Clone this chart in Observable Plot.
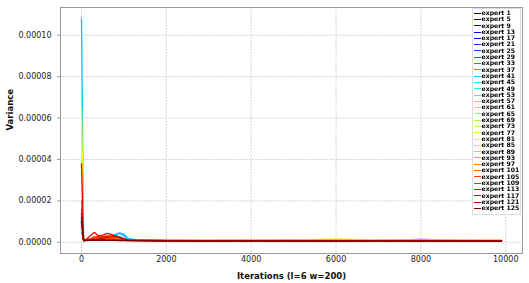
<!DOCTYPE html>
<html><head><meta charset="utf-8">
<script src="https://cdn.jsdelivr.net/npm/d3@7"></script>
<script src="https://cdn.jsdelivr.net/npm/@observablehq/plot@0.6"></script>
<style>
body{margin:0;background:#fff;font-family:"DejaVu Sans",sans-serif;}
#wrap{position:relative;width:529px;height:283px;}
#legend{position:absolute;left:472px;top:8px;width:49px;background:#fff;border:1px solid #ddd;padding:1px 0 2px 1px;box-sizing:border-box;will-change:transform;-webkit-font-smoothing:antialiased;}
.li{display:flex;align-items:center;height:6.3px;font-size:6.2px;font-weight:bold;line-height:6.3px;white-space:nowrap;color:#000;}
.li span.sw{display:inline-block;width:7px;height:0;border-top:1.2px solid;margin-right:0.5px;}
</style></head>
<body><div id="wrap"><div id="legend"></div></div>
<script>
// iterations (shared x positions)
const iterations = [0, 50, 100, 200, 300, 400, 500, 600, 700, 800, 900, 1000, 1100, 1300, 1600, 2000, 3000, 4000, 5000, 6000, 7000, 8000, 9000, 9900];
// expert ids
const experts = [1,5,9,13,17,21,25,29,33,37,41,45,49,53,57,61,65,69,73,77,81,85,89,93,97,101,105,109,113,117,121,125];
// variance values in units of 1e-6, one row per expert
const variance = [
 [ 9, 1.2, 1.0, 1.1, 1.3, 1.2, 1.4, 1.3, 1.2, 1.1, 1.0, 1.0, 0.9, 0.9, 0.9, 0.8, 0.8, 0.9, 0.8, 0.8, 0.9, 1.2, 0.8, 0.8],
 [ 7, 1.1, 1.2, 1.4, 1.6, 1.5, 1.3, 1.2, 1.3, 1.2, 1.1, 1.0, 1.0, 0.9, 0.9, 0.9, 0.8, 0.8, 0.9, 0.9, 0.8, 0.9, 0.8, 0.8],
 [10, 1.0, 1.1, 1.3, 1.5, 1.7, 1.9, 1.8, 1.6, 1.4, 1.2, 1.1, 1.0, 1.0, 0.9, 0.9, 0.9, 0.8, 0.8, 0.9, 0.8, 1.3, 0.9, 0.8],
 [ 6, 1.2, 1.1, 1.2, 1.4, 1.6, 1.8, 2.0, 1.9, 1.6, 1.3, 1.1, 1.0, 0.9, 0.9, 0.9, 0.8, 0.8, 0.8, 0.8, 0.9, 0.8, 0.8, 0.8],
 [ 8, 1.1, 1.0, 1.2, 1.3, 1.5, 1.7, 2.1, 2.4, 2.8, 2.2, 1.5, 1.2, 1.0, 0.9, 0.9, 0.8, 0.9, 0.8, 0.9, 0.9, 1.1, 0.8, 0.8],
 [ 7, 1.0, 1.1, 1.3, 1.6, 1.9, 2.2, 2.6, 2.9, 3.2, 2.4, 1.6, 1.2, 1.0, 1.0, 0.9, 0.8, 0.8, 0.9, 0.8, 0.8, 1.4, 0.9, 0.8],
 [ 9, 1.2, 1.2, 1.4, 1.7, 2.0, 2.3, 2.1, 1.9, 1.7, 1.5, 1.3, 1.1, 1.0, 1.0, 0.9, 0.9, 0.8, 0.8, 1.0, 0.9, 0.9, 0.8, 0.8],
 [11, 1.1, 1.0, 1.2, 1.4, 1.6, 1.8, 1.7, 1.6, 1.5, 1.3, 1.2, 1.1, 1.0, 0.9, 0.9, 0.9, 0.9, 1.1, 0.9, 0.8, 0.9, 0.9, 0.8],
 [12, 1.0, 1.1, 1.3, 1.7, 2.2, 2.6, 2.9, 3.1, 3.0, 2.6, 1.8, 1.3, 1.1, 1.0, 0.9, 0.9, 0.8, 0.9, 0.9, 0.8, 0.9, 0.8, 0.8],
 [20, 1.2, 1.1, 1.3, 1.6, 2.1, 2.6, 3.0, 3.3, 3.6, 4.3, 3.2, 1.6, 1.1, 1.0, 1.0, 0.9, 0.9, 0.9, 1.0, 0.9, 0.9, 0.9, 0.8],
 [108, 1.1, 1.2, 1.5, 2.0, 2.5, 2.9, 3.2, 3.4, 3.8, 4.6, 4.0, 1.8, 1.2, 1.1, 1.0, 1.2, 0.9, 0.9, 1.1, 0.9, 0.9, 1.0, 0.8],
 [15, 1.0, 1.1, 1.3, 1.7, 2.0, 2.4, 2.7, 2.9, 3.1, 2.6, 1.9, 1.3, 1.1, 1.0, 0.9, 0.9, 0.9, 0.8, 0.9, 0.8, 0.8, 0.9, 0.8],
 [ 9, 1.1, 1.0, 1.2, 1.5, 1.8, 2.0, 2.2, 2.1, 1.9, 1.6, 1.3, 1.1, 1.0, 0.9, 0.9, 0.9, 0.8, 0.8, 0.9, 0.8, 0.9, 0.8, 0.8],
 [ 8, 1.0, 1.1, 1.3, 1.6, 1.9, 2.1, 2.3, 2.2, 2.0, 1.7, 1.4, 1.2, 1.0, 0.9, 0.9, 0.8, 0.9, 0.9, 1.2, 0.9, 0.8, 0.8, 0.8],
 [10, 1.1, 1.2, 1.5, 1.9, 2.3, 2.5, 2.4, 2.2, 1.9, 1.6, 1.3, 1.1, 1.0, 1.0, 0.9, 0.9, 0.8, 0.9, 0.9, 0.8, 0.9, 0.8, 0.8],
 [ 7, 1.0, 1.0, 1.2, 1.4, 1.6, 1.8, 1.9, 1.8, 1.6, 1.4, 1.2, 1.1, 1.0, 0.9, 0.9, 0.8, 0.8, 0.8, 0.9, 0.8, 0.8, 0.8, 0.8],
 [ 9, 1.1, 1.1, 1.3, 1.6, 2.0, 2.4, 2.7, 2.5, 2.1, 1.7, 1.3, 1.1, 1.0, 0.9, 0.9, 0.9, 0.8, 0.9, 1.3, 0.9, 0.8, 0.9, 0.8],
 [11, 1.0, 1.1, 1.4, 1.8, 2.2, 2.5, 2.6, 2.3, 2.0, 1.6, 1.3, 1.1, 1.0, 1.0, 0.9, 0.8, 0.9, 0.8, 0.9, 0.8, 0.9, 0.8, 0.8],
 [ 8, 1.1, 1.2, 1.4, 1.7, 2.0, 2.2, 2.1, 1.9, 1.7, 1.4, 1.2, 1.1, 1.0, 0.9, 0.9, 0.9, 0.8, 0.8, 0.9, 0.9, 0.8, 0.8, 0.8],
 [10, 1.0, 1.1, 1.3, 1.6, 1.9, 2.1, 2.2, 2.0, 1.8, 1.5, 1.3, 1.1, 1.0, 0.9, 0.9, 0.8, 0.9, 0.9, 0.9, 0.8, 0.8, 0.9, 0.8],
 [65, 1.2, 1.1, 1.3, 1.5, 1.7, 1.9, 1.8, 1.6, 1.5, 1.3, 1.2, 1.1, 1.0, 1.0, 0.9, 1.0, 0.9, 1.1, 1.6, 1.1, 1.0, 1.3, 1.2],
 [14, 1.1, 1.0, 1.2, 1.4, 1.6, 1.7, 1.6, 1.5, 1.4, 1.2, 1.1, 1.0, 1.0, 0.9, 1.0, 1.1, 1.0, 1.0, 1.3, 1.0, 1.1, 1.0, 1.2],
 [12, 1.0, 1.1, 1.3, 1.5, 1.8, 2.0, 1.9, 1.7, 1.5, 1.3, 1.1, 1.0, 1.0, 0.9, 0.9, 0.9, 0.9, 0.9, 1.1, 0.9, 0.9, 1.1, 0.9],
 [ 9, 1.1, 1.1, 1.2, 1.4, 1.5, 1.6, 1.5, 1.4, 1.3, 1.2, 1.1, 1.0, 0.9, 0.9, 0.9, 0.8, 0.9, 0.8, 0.9, 0.8, 0.9, 0.8, 0.8],
 [10, 1.0, 1.0, 1.1, 1.3, 1.5, 1.6, 1.5, 1.4, 1.3, 1.2, 1.1, 1.0, 0.9, 0.9, 0.8, 0.8, 0.8, 0.8, 0.9, 0.8, 0.8, 0.8, 0.8],
 [11, 1.1, 1.1, 1.3, 1.6, 1.8, 1.9, 1.8, 1.6, 1.4, 1.2, 1.1, 1.0, 0.9, 0.9, 0.9, 0.8, 0.8, 0.9, 0.8, 0.8, 0.9, 0.8, 0.8],
 [13, 1.0, 1.1, 1.4, 2.0, 2.4, 2.2, 2.0, 1.8, 1.6, 1.4, 1.2, 1.0, 0.9, 0.9, 0.8, 0.8, 0.8, 0.8, 0.8, 0.8, 0.8, 0.8, 0.8],
 [16, 1.1, 1.2, 1.6, 2.6, 2.9, 2.7, 2.9, 3.0, 2.6, 2.0, 1.4, 1.1, 1.0, 0.9, 0.8, 0.8, 0.8, 0.8, 0.8, 0.8, 0.8, 0.8, 0.7],
 [38, 1.0, 1.3, 3.0, 4.8, 3.2, 3.5, 4.3, 3.8, 3.0, 2.5, 1.6, 1.2, 1.0, 0.9, 0.8, 0.8, 0.8, 0.8, 0.8, 0.8, 0.8, 0.8, 0.7],
 [14, 0.9, 1.0, 1.2, 1.4, 1.6, 2.0, 2.4, 2.5, 2.7, 2.3, 1.5, 1.1, 0.9, 0.8, 0.8, 0.7, 0.8, 0.7, 0.7, 0.8, 0.7, 0.7, 0.7],
 [12, 0.8, 0.9, 1.0, 1.1, 1.1, 1.2, 1.1, 1.1, 1.0, 0.9, 0.9, 0.8, 0.8, 0.7, 0.7, 0.7, 0.7, 0.7, 0.7, 0.7, 0.7, 0.7, 0.6],
 [10, 0.7, 0.8, 0.9, 1.0, 1.0, 1.0, 1.0, 0.9, 0.9, 0.8, 0.8, 0.8, 0.7, 0.7, 0.7, 0.6, 0.7, 0.6, 0.6, 0.7, 0.6, 0.6, 0.6]
];

const names = experts.map(e => "expert " + e);
const rows = [];
experts.forEach((e, i) => iterations.forEach((it, j) => rows.push({expert: names[i], it, v: variance[i][j] * 1e-6})));

// matplotlib "jet" colormap
function jet(t) {
  const seg = (pts) => { for (let k = 1; k < pts.length; k++) { if (t <= pts[k][0]) { const [x0,y0] = pts[k-1], [x1,y1] = pts[k]; return y0 + (y1-y0)*(t-x0)/(x1-x0); } } return pts[pts.length-1][1]; };
  const r = seg([[0,0],[0.35,0],[0.66,1],[0.89,1],[1,0.5]]);
  const g = seg([[0,0],[0.125,0],[0.375,1],[0.64,1],[0.91,0],[1,0]]);
  const b = seg([[0,0.5],[0.11,1],[0.34,1],[0.65,0],[1,0]]);
  return d3.rgb(r*255, g*255, b*255).formatHex();
}
const colors = names.map((_, i) => jet(i / (names.length - 1)));
const xTicks = [0, 2000, 4000, 6000, 8000, 10000];
const yTicks = [0, 2e-5, 4e-5, 6e-5, 8e-5, 1e-4];

const plot = Plot.plot({
  width: 529, height: 283,
  marginLeft: 60, marginRight: 7, marginTop: 7, marginBottom: 30,
  style: {fontFamily: "DejaVu Sans, sans-serif", fontSize: "8px", color: "#222"},
  x: {domain: [-495, 10395], label: null},
  y: {domain: [-5.4e-6, 113.4e-6], label: null},
  color: {domain: names, range: colors},
  marks: [
    Plot.gridX(xTicks, {stroke: "#c8c8c8", strokeOpacity: 1, strokeDasharray: "1.5,1.5"}),
    Plot.gridY(yTicks, {stroke: "#c8c8c8", strokeOpacity: 1, strokeDasharray: "1.5,1.5"}),
    Plot.line(rows, {x: "it", y: "v", z: "expert", stroke: "expert", strokeWidth: 1.3}),
    Plot.frame({stroke: "#999"}),
    Plot.axisX({ticks: xTicks, tickFormat: d3.format("d"), tickSize: 2, tickPadding: 1, stroke: "#999", label: null}),
    Plot.axisY({ticks: yTicks, tickFormat: d3.format(".5f"), tickSize: 3, tickPadding: 6, stroke: "#999", label: null}),
    Plot.text(["Iterations (l=6 w=200)"], {frameAnchor: "bottom", dy: 23, lineAnchor: "middle", fontWeight: "bold", fontSize: 8.5, fill: "#111"}),
    Plot.text(["Variance"], {frameAnchor: "left", dx: -50, rotate: -90, fontWeight: "bold", fontSize: 8.5, fill: "#111"})
  ]
});
document.getElementById("wrap").prepend(plot);
const color = plot.scale("color");
const leg = document.getElementById("legend");
names.forEach(n => {
  const d = document.createElement("div"); d.className = "li";
  const s = document.createElement("span"); s.className = "sw"; s.style.borderTopColor = color.apply(n);
  d.appendChild(s); d.appendChild(document.createTextNode(n)); leg.appendChild(d);
});
</script></body></html>
